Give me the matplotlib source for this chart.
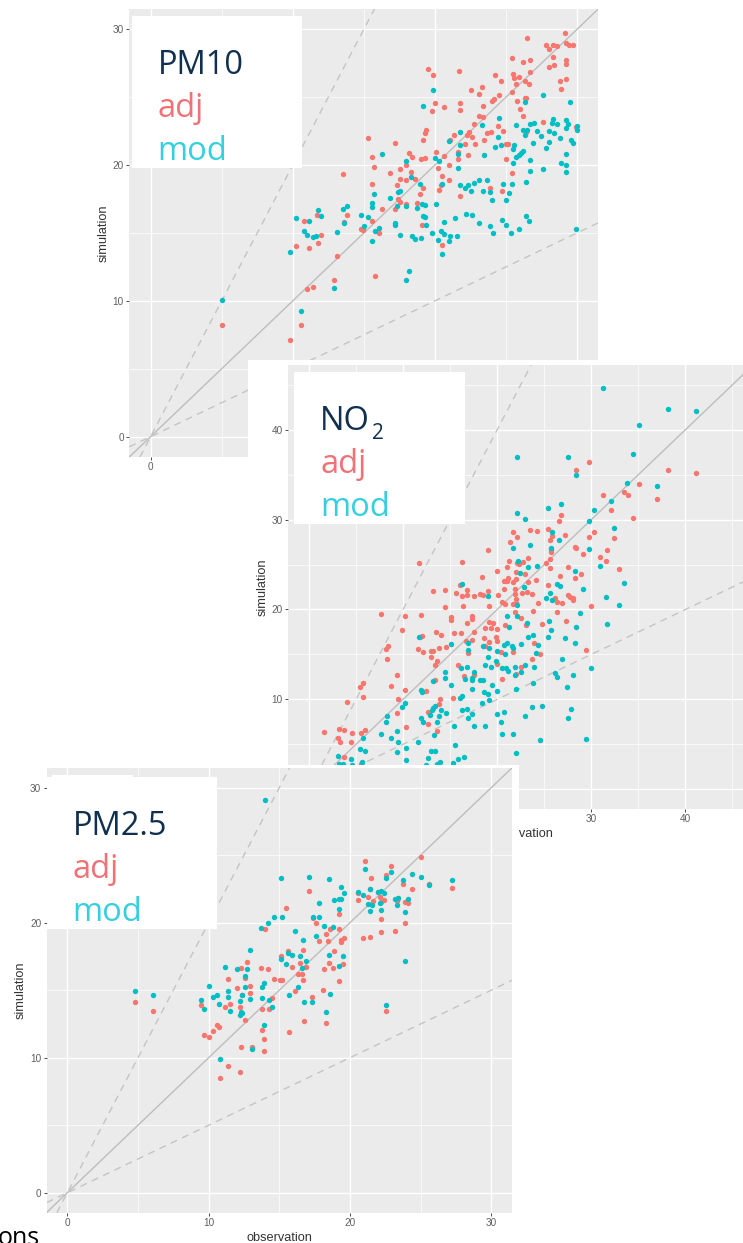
import matplotlib
matplotlib.use("Agg")
import matplotlib.pyplot as plt
from matplotlib.patches import Rectangle

# Size of the picture in pixels
W = 743
H = 1243

plt.rcParams["font.family"] = ["Liberation Sans", "DejaVu Sans"]

COLOR_ADJ = "#F8766D"
COLOR_MOD = "#00BFC4"

# (observation, simulation)
pm10_adj = [
    (29.17, 29.72), (26.5, 29.37), (27.79, 28.86), (28.0, 28.56), (28.28, 28.86), (28.61, 28.76),
    (29.24, 28.96), (29.47, 28.83), (29.71, 28.86), (26.71, 27.75), (26.19, 27.58), (25.42, 27.88),
    (28.28, 27.95), (29.22, 27.73), (29.22, 27.43), (28.4, 27.39), (28.0, 27.26), (19.5, 27.09),
    (19.9, 26.65), (21.71, 26.92), (26.71, 26.85), (25.51, 26.72), (25.58, 26.43), (25.89, 26.48),
    (24.2, 26.65), (24.62, 26.16), (25.7, 25.96), (26.35, 26.16), (26.66, 26.01), (28.82, 26.18),
    (29.22, 26.33), (28.91, 25.62), (22.51, 25.54), (23.3, 25.72), (23.12, 25.27), (25.42, 25.37),
    (24.5, 25.15), (24.13, 24.9), (24.01, 24.71), (26.31, 24.98), (26.4, 24.98), (25.81, 24.73),
    (20.02, 24.61), (21.78, 24.59), (20.61, 24.29), (21.78, 24.05), (19.81, 23.95), (23.4, 24.39),
    (26.0, 24.17), (23.12, 23.63), (23.38, 23.53), (26.21, 23.6), (22.72, 23.06), (27.6, 23.19),
    (29.92, 22.82), (24.41, 22.87), (19.41, 22.62), (19.32, 22.38), (19.2, 21.83), (15.3, 21.98),
    (17.2, 21.64), (21.08, 21.83), (21.38, 22.23), (22.25, 22.23), (22.37, 22.45), (22.6, 22.1),
    (22.11, 21.59), (22.81, 21.59), (23.49, 21.86), (23.68, 22.33), (23.94, 22.45), (24.81, 22.5),
    (26.4, 22.45), (25.02, 21.52), (25.18, 21.52), (20.09, 20.95), (18.21, 20.88), (18.4, 20.58),
    (15.61, 20.58), (19.01, 20.43), (19.29, 20.53), (20.61, 20.68), (21.62, 20.97), (21.62, 20.48),
    (22.3, 20.75), (25.02, 20.48), (18.0, 20.04), (21.01, 20.04), (20.21, 19.8), (17.53, 19.75),
    (15.73, 19.85), (13.52, 19.38), (16.81, 19.45), (18.31, 19.5), (25.42, 19.45), (20.51, 19.23),
    (17.53, 19.01), (18.0, 18.89), (18.61, 18.96), (21.01, 18.89), (15.61, 18.62), (17.32, 18.54),
    (20.42, 18.52), (20.3, 18.2), (19.2, 18.3), (23.89, 18.32), (24.71, 18.08), (18.92, 17.86),
    (21.8, 17.73), (17.44, 17.49), (17.53, 17.32), (18.0, 17.14), (18.71, 17.24), (16.29, 16.75),
    (17.2, 16.75), (13.8, 16.31), (11.72, 16.31), (10.82, 15.89), (13.62, 15.82), (15.61, 15.92),
    (19.11, 15.57), (14.81, 15.33), (14.93, 15.25), (16.1, 15.0), (12.0, 14.88), (11.81, 14.25),
    (10.21, 14.07), (11.11, 13.9), (13.1, 13.31), (20.51, 14.15), (12.91, 11.57), (15.8, 11.86),
    (11.01, 10.86), (11.41, 11.0), (10.61, 8.2), (9.82, 7.1), (5.0, 8.2),
]
pm10_mod = [
    (19.9, 25.57), (19.2, 24.36), (27.6, 25.15), (29.52, 24.63), (26.31, 24.63), (24.5, 23.5),
    (23.3, 22.94), (25.7, 22.92), (21.78, 22.42), (20.98, 21.74), (26.71, 23.06), (27.01, 23.11),
    (28.23, 23.11), (28.3, 23.41), (28.61, 23.04), (29.22, 23.33), (29.4, 23.06), (29.22, 22.72),
    (29.99, 22.87), (29.99, 22.57), (26.19, 22.6), (26.47, 22.57), (26.31, 22.2), (27.2, 22.5),
    (28.0, 22.55), (28.4, 22.33), (27.5, 22.13), (28.82, 22.01), (28.0, 21.71), (26.89, 21.66),
    (29.59, 21.83), (29.69, 21.61), (27.81, 21.25), (24.41, 22.1), (24.62, 21.49), (24.2, 21.32),
    (25.58, 21.47), (25.51, 21.17), (21.78, 21.49), (21.66, 20.8), (23.49, 20.75), (26.19, 21.07),
    (26.03, 20.9), (25.89, 20.73), (25.74, 20.61), (26.71, 20.36), (25.51, 20.14), (29.22, 20.83),
    (28.91, 20.12), (29.22, 20.02), (27.6, 19.72), (26.71, 19.55), (29.22, 19.48), (16.29, 20.83),
    (18.0, 20.34), (20.02, 20.53), (20.3, 20.29), (21.62, 19.77), (18.31, 19.13), (18.92, 18.62),
    (26.4, 18.79), (25.42, 18.62), (24.81, 18.59), (23.7, 18.91), (23.09, 18.91), (22.77, 18.69),
    (22.34, 18.57), (21.8, 18.54), (22.13, 18.35), (22.51, 18.08), (23.4, 18.13), (23.91, 18.05),
    (25.2, 17.95), (24.01, 17.46), (25.02, 17.44), (20.51, 18.64), (17.44, 18.03), (17.53, 18.1),
    (15.73, 17.88), (16.81, 17.59), (15.61, 17.24), (15.61, 16.9), (17.32, 16.97), (18.0, 17.0),
    (18.71, 16.82), (19.11, 17.14), (19.29, 17.05), (20.11, 17.14), (13.8, 17.02), (13.52, 16.75),
    (11.81, 16.7), (12.0, 16.26), (11.11, 15.92), (10.21, 16.09), (14.81, 16.36), (15.3, 16.19),
    (19.2, 16.28), (19.32, 16.21), (22.2, 16.43), (22.6, 16.31), (21.4, 16.09), (20.61, 15.82),
    (26.4, 16.28), (26.61, 15.89), (24.71, 15.99), (25.02, 15.62), (23.09, 15.77), (23.89, 15.55),
    (24.1, 15.03), (25.39, 14.98), (25.91, 15.28), (29.92, 15.28), (17.2, 15.74), (17.2, 15.6),
    (19.41, 15.62), (16.1, 15.38), (15.02, 15.5), (15.8, 15.15), (13.1, 15.11), (13.62, 15.72),
    (10.82, 15.13), (11.01, 14.83), (11.41, 14.74), (11.67, 14.76), (19.81, 15.03), (20.42, 15.13),
    (20.61, 14.91), (21.1, 14.79), (21.59, 14.81), (17.53, 14.83), (18.4, 14.81), (18.61, 14.59),
    (19.01, 14.66), (20.21, 14.47), (21.01, 14.42), (15.61, 14.42), (9.82, 13.58), (20.51, 13.46),
    (18.19, 12.23), (18.0, 11.57), (12.91, 10.95), (10.61, 9.24), (5.0, 10.1),
]

no2_adj = [
    (11.66, 25.2), (13.15, 22.08), (14.5, 22.19), (15.6, 21.82), (16.27, 25.31), (16.09, 22.75),
    (16.84, 22.19), (16.27, 21.45), (16.84, 21.56), (17.55, 21.45), (18.12, 21.67), (18.54, 21.56),
    (19.04, 22.05), (18.36, 23.57), (18.97, 26.57), (20.07, 21.56), (20.0, 24.27), (20.74, 22.31),
    (20.74, 23.16), (21.02, 23.16), (21.13, 23.53), (21.02, 24.76), (21.27, 25.39), (21.66, 28.62),
    (22.12, 28.1), (21.38, 27.47), (23.44, 28.84), (24.22, 28.73), (25.35, 28.95), (25.81, 28.21),
    (25.56, 27.69), (27.23, 28.25), (26.52, 29.84), (26.77, 30.51), (28.36, 35.48), (29.75, 36.37),
    (31.24, 32.77), (35.1, 34.0), (33.44, 33.11), (33.86, 32.74), (34.43, 30.14), (38.12, 35.52),
    (41.13, 35.15), (37.02, 32.33), (32.09, 31.07), (30.24, 28.58), (29.75, 28.06), (32.37, 27.91),
    (28.29, 26.98), (28.36, 26.87), (29.14, 26.17), (31.63, 26.61), (30.95, 25.83), (31.52, 25.35),
    (32.9, 24.5), (28.86, 23.9), (28.26, 23.46), (27.51, 24.76), (26.63, 23.75), (25.35, 22.71),
    (25.74, 26.61), (25.74, 26.35), (25.56, 25.61), (25.14, 25.13), (25.56, 24.57), (23.26, 25.76),
    (22.69, 25.31), (22.34, 25.05), (22.09, 25.2), (22.02, 24.2), (22.97, 23.9), (21.98, 23.42),
    (21.73, 23.09), (23.26, 23.09), (24.11, 23.31), (22.62, 21.79), (23.15, 21.9), (23.68, 21.71),
    (21.84, 22.23), (21.91, 21.67), (27.51, 21.6), (27.76, 21.41), (28.01, 21.23), (26.13, 21.3),
    (21.98, 21.19), (14.5, 20.23), (16.41, 20.34), (19.14, 20.38), (20.49, 20.86), (20.78, 20.57),
    (21.63, 20.6), (21.98, 20.75), (21.84, 19.75), (22.55, 19.01), (23.01, 18.27), (23.75, 19.83),
    (24.36, 20.75), (26.34, 20.86), (26.88, 20.72), (28.01, 21.05), (26.34, 19.68), (27.34, 18.75),
    (24.75, 18.38), (29.92, 20.38), (29.46, 15.52), (7.69, 19.49), (10.24, 19.31), (11.88, 19.38),
    (15.07, 19.12), (15.07, 18.82), (17.27, 19.31), (17.27, 18.9), (16.77, 18.53), (9.89, 17.71),
    (13.47, 17.52), (14.07, 17.15), (12.02, 17.0), (11.8, 16.97), (17.55, 17.45), (15.46, 17.37),
    (16.17, 17.37), (19.14, 18.56), (19.5, 18.53), (18.72, 17.93), (19.36, 17.93), (19.98, 17.86),
    (20.88, 18.3), (19.89, 16.97), (20.03, 16.52), (18.58, 16.86), (19.14, 16.34), (18.65, 15.96),
    (17.27, 16.56), (16.7, 16.45), (8.4, 15.96), (8.19, 15.56), (11.59, 15.63), (12.16, 15.22),
    (13.01, 15.41), (13.22, 15.41), (13.86, 15.67), (14.61, 15.78), (16.91, 15.11), (20.39, 15.22),
    (21.66, 15.26), (23.86, 16.22), (24.53, 15.07), (23.65, 14.48), (12.94, 14.74), (8.26, 14.48),
    (13.58, 14.22), (13.4, 13.81), (15.78, 13.85), (19.98, 13.96), (9.39, 12.7), (16.49, 12.62),
    (17.55, 12.7), (22.55, 13.59), (21.95, 12.77), (20.46, 12.29), (13.36, 12.18), (5.78, 11.84),
    (5.42, 11.4), (8.68, 11.51), (10.24, 11.06), (5.71, 10.21), (12.48, 10.95), (9.5, 9.99),
    (13.97, 9.99), (15.35, 10.14), (13.86, 9.47), (4.0, 9.69), (12.69, 8.61), (9.39, 8.47),
    (10.28, 6.94), (12.66, 7.24), (1.59, 6.39), (3.19, 6.72), (3.68, 6.57), (4.61, 6.24),
    (5.49, 6.28), (5.99, 6.54), (3.12, 5.68), (3.33, 5.27), (4.5, 5.31), (13.58, 6.46),
    (3.75, 3.64), (5.49, 2.79),
]
no2_mod = [
    (31.24, 44.61), (38.12, 42.35), (41.13, 42.13), (35.1, 40.53), (22.05, 36.93), (27.51, 36.93),
    (34.43, 37.26), (28.36, 34.94), (33.82, 34.11), (37.02, 33.74), (32.12, 32.11), (25.35, 31.33),
    (26.77, 31.77), (30.24, 31.1), (22.05, 30.73), (22.94, 30.06), (29.75, 29.8), (32.37, 29.1),
    (25.81, 28.65), (26.52, 27.69), (23.44, 27.17), (21.66, 26.83), (25.74, 26.87), (29.75, 26.72),
    (30.95, 24.79), (22.16, 25.42), (23.26, 24.76), (24.22, 24.79), (28.26, 24.24), (22.37, 24.01),
    (33.44, 22.97), (16.27, 22.82), (26.34, 22.79), (26.63, 22.64), (22.8, 22.53), (29.14, 22.23),
    (25.56, 21.82), (25.14, 21.3), (31.52, 21.41), (18.97, 21.49), (25.81, 21.04), (32.9, 20.49),
    (31.63, 18.38), (21.02, 19.31), (22.09, 19.27), (21.24, 18.01), (23.15, 18.53), (25.53, 18.75),
    (25.74, 17.67), (28.36, 18.01), (28.83, 19.57), (22.05, 20.49), (25.35, 16.89), (27.23, 16.82),
    (28.22, 16.26), (23.75, 17.19), (23.26, 16.89), (22.55, 16.19), (21.02, 16.26), (20.74, 16.04),
    (21.56, 15.96), (21.73, 15.67), (20.78, 15.0), (19.96, 15.33), (19.14, 15.74), (18.54, 15.96),
    (24.36, 16.04), (24.11, 15.15), (16.91, 15.48), (16.91, 16.3), (11.7, 16.97), (15.07, 16.15),
    (19.04, 14.67), (19.89, 14.29), (18.72, 13.77), (19.36, 13.63), (20.56, 13.51), (20.95, 13.51),
    (21.13, 13.18), (21.88, 13.59), (22.55, 13.03), (22.9, 13.77), (23.86, 13.59), (21.88, 12.66),
    (23.75, 11.84), (26.84, 14.44), (29.92, 13.51), (26.17, 12.96), (26.34, 12.51), (28.04, 12.74),
    (27.37, 11.4), (21.95, 11.18), (16.17, 13.44), (16.77, 13.59), (14.5, 13.07), (14.5, 12.36),
    (17.55, 13.07), (16.63, 12.25), (17.27, 12.4), (17.27, 12.1), (18.12, 12.14), (18.47, 12.18),
    (13.15, 12.03), (15.1, 11.62), (19.46, 11.62), (17.34, 11.1), (19.96, 10.88), (11.88, 10.99),
    (12.05, 10.84), (18.58, 10.77), (19.07, 10.55), (16.27, 10.4), (16.06, 10.17), (19.18, 9.95),
    (18.4, 9.54), (10.24, 9.58), (9.89, 9.17), (23.65, 9.13), (24.75, 9.21), (27.87, 8.91),
    (27.51, 7.91), (16.27, 8.8), (16.77, 8.95), (13.44, 9.28), (13.22, 8.99), (13.05, 8.8),
    (14.07, 8.76), (14.57, 8.43), (12.9, 8.24), (17.27, 8.32), (16.91, 7.98), (19.96, 8.32),
    (20.74, 8.54), (22.97, 8.17), (11.88, 7.91), (12.09, 7.46), (8.33, 8.13), (8.19, 7.43),
    (13.86, 8.1), (13.58, 7.46), (15.46, 7.06), (20.39, 7.43), (18.65, 7.02), (17.55, 7.09),
    (7.66, 6.2), (9.39, 6.5), (8.68, 5.68), (9.5, 5.27), (13.33, 5.98), (20.49, 6.2),
    (21.66, 6.13), (11.59, 5.31), (29.43, 5.61), (24.53, 5.46), (5.78, 5.68), (9.36, 4.09),
    (10.28, 4.61), (15.56, 4.87), (21.95, 4.05), (5.42, 4.53), (5.99, 4.27), (3.12, 3.72),
    (4.5, 3.34), (5.63, 3.05), (10.28, 3.27), (16.49, 3.53), (15.78, 3.31), (15.35, 2.9),
    (13.01, 4.2), (13.4, 4.2), (12.69, 3.49), (13.93, 3.05), (13.65, 2.86), (12.48, 2.67),
    (3.22, 2.86), (3.65, 2.79), (4.61, 2.67),
]

pm25_adj = [
    (4.79, 14.1), (6.08, 13.43), (9.48, 13.93), (9.69, 11.7), (10.0, 11.56), (10.31, 11.98),
    (10.61, 12.42), (10.71, 12.25), (10.78, 8.52), (11.39, 9.41), (12.19, 8.94), (12.29, 10.81),
    (13.09, 10.77), (13.89, 10.52), (13.89, 11.36), (13.8, 12.02), (15.68, 11.9), (16.75, 12.69),
    (18.28, 12.59), (22.57, 13.43), (12.59, 12.79), (11.18, 13.75), (11.49, 14.0), (12.19, 13.75),
    (12.38, 14.67), (12.9, 14.77), (12.9, 15.28), (12.0, 15.19), (11.39, 15.8), (12.59, 15.93),
    (12.29, 16.67), (12.69, 17.09), (13.7, 16.62), (14.2, 16.57), (14.6, 15.85), (15.07, 15.75),
    (15.21, 15.75), (13.8, 13.63), (14.29, 13.6), (14.46, 14.44), (16.08, 14.96), (16.67, 15.75),
    (16.3, 16.22), (16.6, 16.22), (15.9, 16.72), (15.09, 17.51), (15.59, 17.93), (15.47, 21.06),
    (13.99, 19.51), (17.08, 22.37), (17.36, 20.35), (17.59, 20.0), (17.78, 18.67), (16.46, 17.04),
    (16.67, 17.98), (16.89, 16.72), (17.29, 14.47), (18.07, 15.01), (18.18, 16.57), (18.49, 16.99),
    (18.77, 16.62), (18.89, 17.93), (18.47, 18.67), (18.3, 19.16), (18.58, 19.56), (19.2, 19.56),
    (19.39, 18.54), (19.39, 18.72), (19.6, 18.89), (19.5, 16.94), (19.2, 15.65), (19.2, 20.64),
    (20.59, 22.17), (20.59, 21.65), (21.3, 21.93), (21.39, 22.47), (21.49, 23.33), (21.08, 24.59),
    (22.0, 22.3), (22.12, 21.93), (21.6, 21.6), (22.19, 21.53), (22.41, 21.68), (22.19, 20.27),
    (22.19, 19.33), (21.39, 18.94), (20.9, 18.84), (23.18, 19.38), (23.89, 19.98), (23.89, 21.53),
    (24.08, 21.46), (23.3, 21.63), (23.37, 21.8), (24.39, 22.49), (23.77, 22.86), (22.57, 23.56),
    (22.9, 24.22), (25.0, 24.84), (25.59, 22.89), (27.19, 22.57),
]
pm25_mod = [
    (4.79, 14.96), (6.08, 14.62), (9.48, 14.27), (9.69, 13.6), (10.0, 15.31), (10.31, 14.47),
    (10.59, 14.67), (10.71, 13.98), (10.78, 9.9), (11.18, 16.74), (11.39, 14.94), (11.39, 14.47),
    (11.49, 13.43), (12.0, 16.57), (12.19, 14.17), (12.38, 14.67), (12.19, 13.14), (12.38, 13.28),
    (12.29, 13.38), (12.59, 16.05), (12.69, 16.57), (12.59, 15.26), (12.9, 14.37), (12.9, 18.0),
    (13.09, 10.62), (13.7, 19.6), (13.8, 15.26), (13.89, 15.56), (13.8, 14.42), (13.99, 29.09),
    (13.89, 12.42), (14.2, 20.0), (14.29, 14.27), (14.46, 13.75), (14.6, 20.44), (15.09, 23.33),
    (15.19, 20.42), (15.09, 17.33), (15.47, 16.94), (15.59, 17.73), (15.9, 17.58), (15.68, 14.62),
    (16.3, 15.26), (16.08, 19.38), (16.46, 17.53), (16.6, 16.62), (16.67, 18.69), (16.75, 14.12),
    (16.89, 17.14), (17.08, 23.38), (17.29, 14.15), (17.36, 20.4), (17.59, 19.04), (17.78, 21.43),
    (17.78, 20.44), (18.18, 19.75), (18.28, 13.41), (18.49, 23.21), (18.49, 17.6), (18.58, 14.69),
    (18.77, 19.7), (18.89, 21.68), (19.2, 21.78), (19.39, 21.78), (19.2, 21.04), (19.39, 22.64),
    (19.6, 22.2), (19.5, 17.56), (19.2, 16.79), (20.59, 22.3), (20.9, 22.02), (21.08, 24.0),
    (21.3, 21.36), (21.39, 22.52), (21.39, 20.84), (21.56, 21.31), (22.0, 22.27), (22.19, 22.37),
    (22.12, 21.43), (22.19, 20.91), (22.41, 22.2), (22.57, 23.28), (22.57, 13.88), (22.9, 23.78),
    (23.18, 21.73), (23.3, 21.28), (23.37, 21.8), (23.77, 23.16), (23.89, 20.79), (23.89, 17.19),
    (24.08, 21.73), (24.39, 23.63), (25.0, 23.41), (25.59, 22.79), (27.19, 23.14),
]

# Tick values of each panel
pm_ticks = [0, 10, 20, 30]
pm_minor = [5, 15, 25]
no2_ticks = [0, 10, 20, 30, 40]
no2_minor = [5, 15, 25, 35, 45]

fig = plt.figure(figsize=(W / 100, H / 100), dpi=100, facecolor="white")


# White block given in picture pixels, y counted from the top
def white_box(x0, y0, x1, y1, z):
    fig.add_artist(Rectangle((x0 / W, 1 - y1 / H), (x1 - x0) / W, (y1 - y0) / H,
                             transform=fig.transFigure, facecolor="white",
                             edgecolor="none", zorder=z))


def panel(box, xlim, ylim, ticks, minor, adj, mod, z):
    x0, y0, x1, y1 = box
    ax = fig.add_axes([x0 / W, 1 - y1 / H, (x1 - x0) / W, (y1 - y0) / H])
    ax.set_zorder(z)
    ax.set_facecolor("#EBEBEB")
    for side in ax.spines.values():
        side.set_visible(False)

    ax.set_xlim(xlim)
    ax.set_ylim(ylim)
    ax.set_xticks(ticks)
    ax.set_yticks(ticks)
    ax.set_xticks(minor, minor=True)
    ax.set_yticks(minor, minor=True)

    ax.set_axisbelow(True)
    ax.grid(which="major", color="white", linewidth=0.95)
    ax.grid(which="minor", color="white", linewidth=0.5)
    ax.tick_params(which="major", length=2.4, width=0.7, color="#4d4d4d",
                   labelcolor="#5f5f5f", labelsize=7.2, pad=1.5)
    ax.tick_params(which="minor", length=0)

    # 1:1 line and the factor of 2 lines
    ax.axline((0, 0), slope=1, color="#bdbdbd", linewidth=1.0, zorder=2)
    ax.axline((0, 0), slope=2, color="#c4c4c4", linewidth=1.0, dashes=(5, 4), zorder=2)
    ax.axline((0, 0), slope=0.5, color="#c4c4c4", linewidth=1.0, dashes=(5, 4), zorder=2)

    ax.scatter(*zip(*adj), s=15, color=COLOR_ADJ, linewidths=0, zorder=3)
    ax.scatter(*zip(*mod), s=15, color=COLOR_MOD, linewidths=0, zorder=3)

    ax.set_xlabel("observation", fontsize=9.2, color="#333333", va="center")
    ax.set_ylabel("simulation", fontsize=9.2, color="#333333", va="center")
    ax.xaxis.set_label_coords(0.5, -25 / (y1 - y0))
    ax.yaxis.set_label_coords(-26 / (x1 - x0), 0.5)
    return ax


# Legend block pasted over a panel
def legend_box(x0, y0, x1, y1, title, z):
    white_box(x0, y0, x1, y1, z)
    tx = x0 + 26
    for text, color, base in [(title, "#10304f", 58), ("adj", "#ee7276", 101), ("mod", "#35cfe0", 144)]:
        fig.text(tx / W, 1 - (y0 + base) / H, text, color=color, fontsize=23.5,
                 family="Open Sans", va="baseline", ha="left", zorder=z + 0.1)


# PM10 sits at the back, NO2 on top of it, PM2.5 on top of both
ax_pm10 = panel((129.3, 9, 598, 457), (-1.5, 31.48), (-1.5, 31.5), pm_ticks, pm_minor, pm10_adj, pm10_mod, 1)
ax_pm10.set_xlabel("")  # hidden behind the NO2 panel in the picture
legend_box(131.7, 16, 302, 167.7, "PM10", 1.5)

white_box(248, 360, 743, 1243, 2)
ax_no2 = panel((288.3, 365, 756, 809), (-2.2, 47.5), (-2.2, 47.2), no2_ticks, no2_minor, no2_adj, no2_mod, 3)
ax_no2.xaxis.set_label_coords(0.496, -25 / 444)
legend_box(294, 372, 465, 523.7, "NO", 3.5)
fig.text(372 / W, 1 - 439 / H, "2", color="#10304f", fontsize=15, family="Open Sans",
         va="baseline", ha="left", zorder=3.6)

white_box(0, 765, 519, 1243, 4)
panel((46.7, 768, 512, 1212.7), (-1.46, 31.47), (-1.48, 31.46), pm_ticks, pm_minor, pm25_adj, pm25_mod, 5)
white_box(52, 775, 133, 777, 5.4)
legend_box(46.7, 776.7, 217, 928.7, "PM2.5", 5.5)

# Cut off word at the lower left edge
fig.text(40 / W, 1 - 1245 / H, "ons", color="black", fontsize=18, family="Open Sans",
         ha="right", va="baseline", zorder=6)

fig.savefig("out.png", dpi=100)
plt.close(fig)
